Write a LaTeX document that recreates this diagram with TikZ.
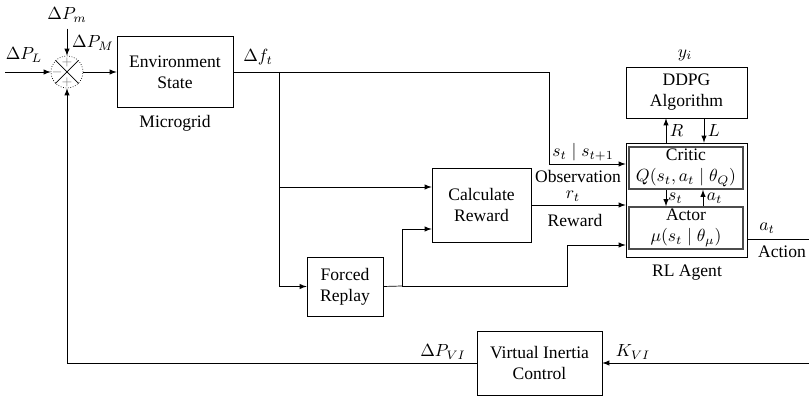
\documentclass[tikz,border=0pt]{standalone}
\usepackage{amsmath}
\usepackage{fontspec}
\setmainfont{Liberation Serif}
\tikzset{
    block/.style={draw, align=center, inner sep=1pt},
    subblock/.style={draw=gray!60!black, line width=0.9pt, text=black, align=center, inner sep=1pt},
    summer/.style={draw, circle, densely dotted, minimum size=0.64cm, inner sep=0pt},
    sign/.style={text=gray, font=\scriptsize, inner sep=0pt},
    sig/.style={->, >=latex},
    lbl/.style={inner sep=0.5pt}
}
\begin{document}
\begin{tikzpicture}[x=0.02cm, y=-0.02cm]
          \useasboundingbox (0,0) rectangle (809,398);
          \begin{scope}
            \node [summer] (sum) at (67,72) {};
            \draw (sum.north west) -- (sum.south east);
            \draw (sum.north east) -- (sum.south west);
            \node [sign] (sgntop) at (67,62) {$+$};
            \node [sign] (sgnbot) at (67,82) {$+$};
            \node [sign] (sgnleft) at (57,72) {$-$};
            \node [lbl] (dpm) at (67,15) {$\Delta P_m$};
            \node [lbl] (dpbig) at (93,43) {$\Delta P_M$};
            \node [lbl] (dpl) at (24,55) {$\Delta P_L$};
            \coordinate (lin) at (5,72);
            \draw [sig] ([yshift=-0.1cm]dpm.south) -- (sum.north);
            \draw [sig] (lin) -- (sum.west);
          \end{scope}
          \begin{scope}
            \node [block, minimum width=2.32cm, minimum height=1.42cm] (env) at (175,72) {Environment\\State};
            \node [lbl] (mg) at (175,123) {Microgrid};
            \node [lbl] (df) at (258,57) {$\Delta f_t$};
            \draw [sig] (sum.east) -- (env.west);
          \end{scope}
          \begin{scope}
            \node [block, minimum width=1.98cm, minimum height=1.48cm] (reward) at (481.5,205) {Calculate\\Reward};
            \node [block, minimum width=1.52cm, minimum height=1.18cm] (replay) at (345,286.5) {Forced\\Replay};
            \coordinate (br) at (279,72);
            \coordinate (rin) at (279,187);
            \coordinate (rp) at (402,286);
            \coordinate (rin2) at (402,229);
            \coordinate (obs) at (549,164);
            \coordinate (actin) at (567,245);
            \draw [sig] (br) |- (replay.west);
            \draw [sig] (rin) -- (rin -| reward.west);
            \draw (replay.east) -- (rp);
            \draw [sig] (rp) -- (rin2) -- (rin2 -| reward.west);
          \end{scope}
          \begin{scope}
            \node [block, minimum width=2.42cm, minimum height=2.28cm] (agent) at (686.5,200) {};
            \node [subblock, minimum width=2.28cm, minimum height=0.84cm] (critic) at (686,168) {Critic\\$Q(s_t, a_t \mid \theta_Q)$};
            \node [subblock, minimum width=2.28cm, minimum height=0.84cm] (actor) at (686,228) {Actor\\$\mu(s_t \mid \theta_\mu)$};
            \node [block, minimum width=2.42cm, minimum height=1.02cm] (ddpg) at (686.5,92.5) {DDPG\\Algorithm};
            \node [lbl] (yi) at (685,55) {$y_i$};
            \node [lbl] (rl) at (687,273) {RL Agent};
            \draw [sig] ([xshift=-0.4cm]critic.south) -- ([xshift=-0.4cm]actor.north) node [midway, right, inner sep=1pt] {$s_t$};
            \draw [sig] ([xshift=0.34cm]actor.north) -- ([xshift=0.34cm]critic.south) node [midway, right, inner sep=2pt] {$a_t$};
            \draw [sig] ([xshift=-0.41cm]agent.north) -- ([xshift=-0.41cm]ddpg.south) node [midway, right, inner sep=2pt] {$R$};
            \draw [sig] ([xshift=0.35cm]ddpg.south) -- ([xshift=0.35cm]agent.north) node [midway, right, inner sep=2pt] {$L$};
          \end{scope}
          \begin{scope}
            \draw [sig] (env.east) -| (obs) -- (obs -| agent.west);
            \draw [sig] (reward.east) -- (reward.east -| agent.west);
            \draw [sig] (rp) -| (actin) -- (actin -| agent.west);
            \node [lbl] (st) at (583,152) {$s_t \mid s_{t+1}$};
            \node [lbl] (obsl) at (578,176) {Observation};
            \node [lbl] (rt) at (573,196) {$r_t$};
            \node [lbl] (rwl) at (575,220) {Reward};
            \coordinate (aout) at (809,239);
            \draw (agent.east |- aout) -- (aout);
            \node [lbl] (at) at (767,228) {$a_t$};
            \node [lbl] (actl) at (782,252) {Action};
          \end{scope}
          \begin{scope}
            \node [block, minimum width=2.5cm, minimum height=1.28cm] (vic) at (539.5,363) {Virtual Inertia\\Control};
            \coordinate (kin) at (809,363);
            \node [lbl] (kvi) at (633,352) {$K_{VI}$};
            \node [lbl] (dpvi) at (443,352) {$\Delta P_{VI}$};
            \draw [sig] (kin) -- (vic.east);
            \draw [sig] (vic.west) -| (sum.south);
          \end{scope}
      \end{tikzpicture}
\end{document}
